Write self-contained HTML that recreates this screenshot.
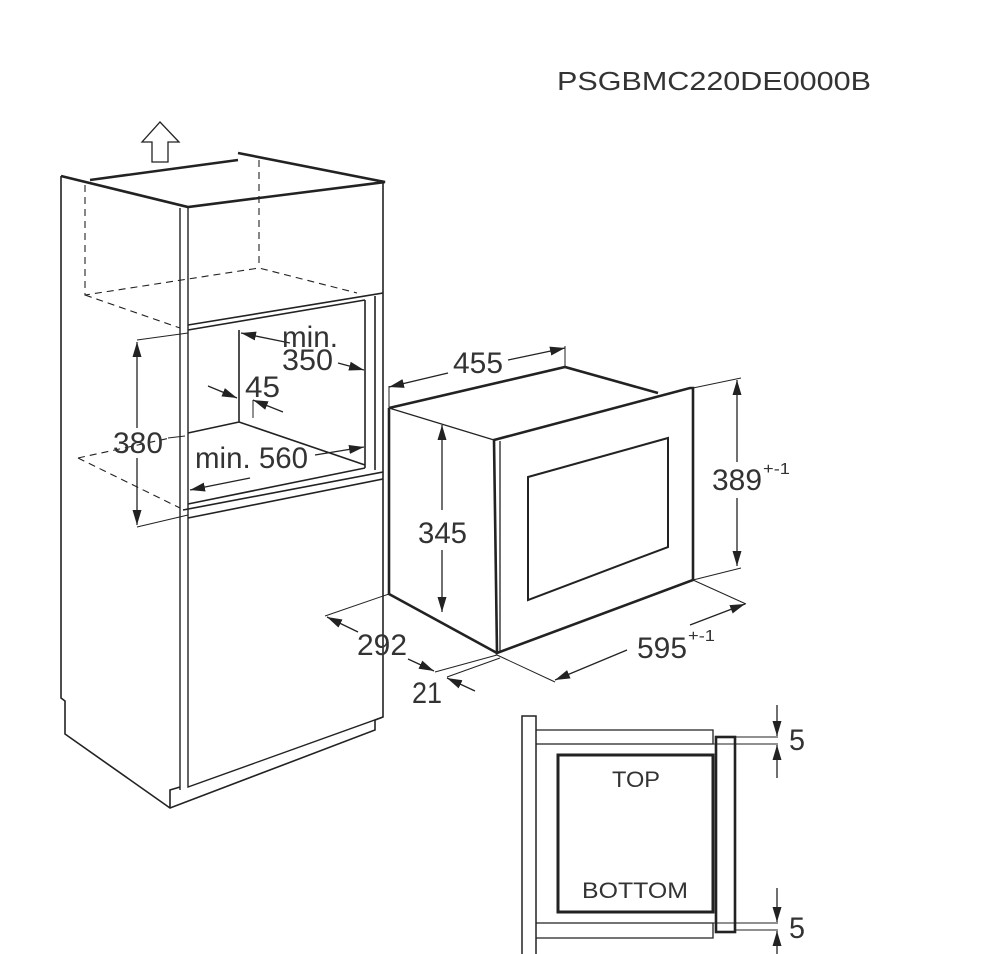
<!DOCTYPE html>
<html><head><meta charset="utf-8"><style>
html,body{margin:0;padding:0;background:#fff}
svg{display:block}
text{font-family:"Liberation Sans",sans-serif;fill:#333}
</style></head><body>
<svg width="1000" height="954" viewBox="0 0 1000 954" xmlns="http://www.w3.org/2000/svg">
<defs>
<marker id="a" viewBox="0 0 10 10" refX="10" refY="5" markerWidth="15" markerHeight="15" orient="auto-start-reverse" markerUnits="userSpaceOnUse">
<path d="M0,2 L10,5 L0,8 z" fill="#222"/></marker>
</defs>
<text x="557" y="90" font-size="26" textLength="314" lengthAdjust="spacingAndGlyphs">PSGBMC220DE0000B</text>
<g fill="none" stroke="#222" stroke-width="1.6">
<path d="M152,162 V142 H142 L160,122 L179,142 H168 V162 Z" stroke-width="1.3"/>
<path d="M61,176 V698 L65,701 V734 L170,808 L375,730 V720 L383,717 V182"/>
<path d="M170,808 V790 L180,787"/>
<path d="M180,208 V790 M188,207 V787 L383,717" stroke-width="1.4"/>
<path d="M61,176 L188,207 L385,182 L238,153 M90,180 L238,160" stroke-width="2.6"/>
<path d="M188,325 L383,293 M188,330 L365,300" stroke-width="1.6"/>
<path d="M365,300 V468 M375,296 V470"/>
<path d="M239,330 V422 L188,433 M239,422 L365,465"/>
<path d="M183,510 L383,472 M188,518 L383,479 M188,504 L365,468"/>
<path d="M85,185 V295 L259,268 L357,293 M259,160 V268 M85,295 L180,328 M78,458 L170,438 M78,458 L180,508" stroke-dasharray="7,5" stroke-width="1.1"/>
<path d="M137,340 L188,333 M137,527 L188,515 M168,438 L185,436" stroke-width="1"/>
<line x1="137" y1="342" x2="137" y2="428" marker-start="url(#a)" stroke-width="1.3"/>
<line x1="137" y1="458" x2="137" y2="525" marker-end="url(#a)" stroke-width="1.3"/>
<line x1="290" y1="343" x2="241" y2="333" marker-end="url(#a)" stroke-width="1.3"/>
<line x1="338" y1="363" x2="364" y2="370" marker-end="url(#a)" stroke-width="1.3"/>
<line x1="208" y1="386" x2="237" y2="398" marker-end="url(#a)" stroke-width="1.3"/>
<line x1="283" y1="412" x2="253" y2="400" marker-end="url(#a)" stroke-width="1.3"/>
<path d="M253,400 V418" stroke-width="1"/>
<line x1="315" y1="455" x2="364" y2="447" marker-end="url(#a)" stroke-width="1.3"/>
<line x1="250" y1="478" x2="190" y2="490" marker-end="url(#a)" stroke-width="1.3"/>
<path d="M389,408 V594 L497,653 M389,408 L565,367 L658,393" stroke-width="2.6"/>
<path d="M389,408 L494,440" stroke-width="1.2"/>
<path d="M494,440 L690,388 L693,388 V580 L497,653 Z" stroke-width="2.6"/>
<path d="M500,441 V652" stroke-width="1.3"/>
<path d="M528,477 L668,438 V547 L528,600 Z" stroke-width="2"/>
<path d="M389,408 V386 M565,367 V346" stroke-width="1"/>
<line x1="448" y1="373" x2="389" y2="387" marker-end="url(#a)" stroke-width="1.3"/>
<line x1="508" y1="360" x2="565" y2="348" marker-end="url(#a)" stroke-width="1.3"/>
<line x1="442" y1="510" x2="442" y2="425" marker-end="url(#a)" stroke-width="1.3"/>
<line x1="442" y1="550" x2="442" y2="612" marker-end="url(#a)" stroke-width="1.3"/>
<path d="M693,388 L741,378 M693,580 L741,568" stroke-width="1"/>
<line x1="737" y1="462" x2="737" y2="380" marker-end="url(#a)" stroke-width="1.3"/>
<line x1="737" y1="498" x2="737" y2="566" marker-end="url(#a)" stroke-width="1.3"/>
<path d="M389,594 L325,616 M497,655 L435,672 M500,658 L447,677 M497,655 L555,682 M693,580 L746,604" stroke-width="1"/>
<line x1="358" y1="632" x2="327" y2="617" marker-end="url(#a)" stroke-width="1.3"/>
<line x1="408" y1="659" x2="434" y2="671" marker-end="url(#a)" stroke-width="1.3"/>
<line x1="475" y1="691" x2="447" y2="678" marker-end="url(#a)" stroke-width="1.3"/>
<line x1="627" y1="650" x2="555" y2="680" marker-end="url(#a)" stroke-width="1.3"/>
<line x1="690" y1="625" x2="745" y2="604" marker-end="url(#a)" stroke-width="1.3"/>
<rect x="522" y="716" width="14" height="240" stroke-width="1.5"/>
<path d="M536,730 H713 V744 H536 M536,923 H713 V938 H536" stroke-width="1.3"/>
<rect x="716" y="737" width="19" height="195" stroke-width="2.6"/>
<rect x="558" y="755" width="155" height="157" stroke-width="3"/>
<path d="M735,737 H778 M713,744 H778 M713,923 H778 M735,930 H778" stroke-width="1"/>
<line x1="777" y1="705" x2="777" y2="736" marker-end="url(#a)" stroke-width="1.3"/>
<line x1="777" y1="778" x2="777" y2="745" marker-end="url(#a)" stroke-width="1.3"/>
<line x1="777" y1="888" x2="777" y2="922" marker-end="url(#a)" stroke-width="1.3"/>
<line x1="777" y1="954" x2="777" y2="931" marker-end="url(#a)" stroke-width="1.3"/>
</g>
<g font-size="30" lengthAdjust="spacingAndGlyphs">
<text x="282" y="347" textLength="56" lengthAdjust="spacingAndGlyphs">min.</text>
<text x="282" y="370" textLength="51" lengthAdjust="spacingAndGlyphs">350</text>
<text x="245" y="397" textLength="35" lengthAdjust="spacingAndGlyphs">45</text>
<text x="113" y="453" textLength="50" lengthAdjust="spacingAndGlyphs">380</text>
<text x="195" y="468" textLength="113" lengthAdjust="spacingAndGlyphs">min. 560</text>
<text x="453" y="373" textLength="50" lengthAdjust="spacingAndGlyphs">455</text>
<text x="418" y="543" textLength="49" lengthAdjust="spacingAndGlyphs">345</text>
<text x="712" y="490" textLength="50" lengthAdjust="spacingAndGlyphs">389</text>
<text x="763" y="474" font-size="16" textLength="27" lengthAdjust="spacingAndGlyphs">+-1</text>
<text x="357" y="655" textLength="50" lengthAdjust="spacingAndGlyphs">292</text>
<text x="412" y="703" textLength="30" lengthAdjust="spacingAndGlyphs">21</text>
<text x="637" y="658" textLength="50" lengthAdjust="spacingAndGlyphs">595</text>
<text x="688" y="641" font-size="16" textLength="27" lengthAdjust="spacingAndGlyphs">+-1</text>
<text x="789" y="750" textLength="16" lengthAdjust="spacingAndGlyphs">5</text>
<text x="789" y="938" textLength="16" lengthAdjust="spacingAndGlyphs">5</text>
</g>
<text x="612" y="787" font-size="22" textLength="48" lengthAdjust="spacingAndGlyphs">TOP</text>
<text x="582" y="898" font-size="22" textLength="106" lengthAdjust="spacingAndGlyphs">BOTTOM</text>
</svg>
</body></html>
